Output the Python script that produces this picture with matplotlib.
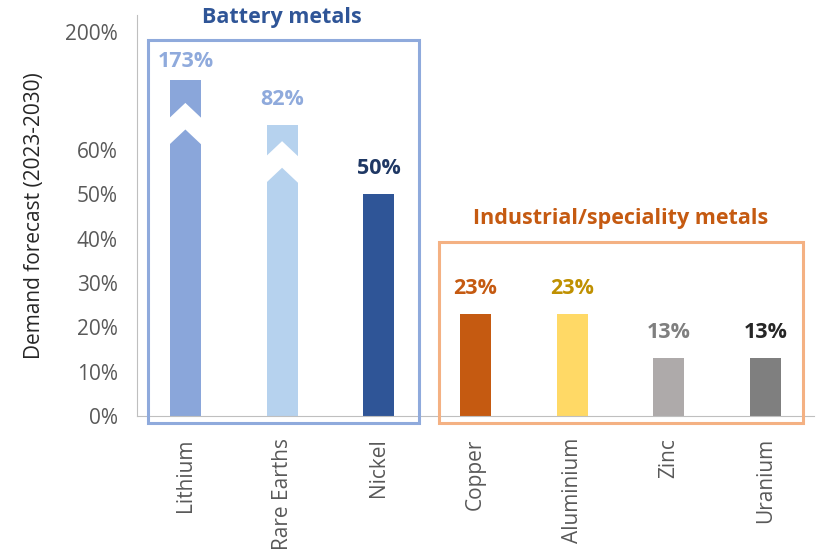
import numpy as np
import matplotlib
matplotlib.use("Agg")
import matplotlib.pyplot as plt
from matplotlib.patches import Rectangle, Polygon
from matplotlib.transforms import blended_transform_factory

plt.rcParams['font.family'] = ['Open Sans', 'DejaVu Sans']

# --- data ---
metals = ['Lithium', 'Rare Earths', 'Nickel', 'Copper', 'Aluminium', 'Zinc', 'Uranium']
demand = [173, 82, 50, 23, 23, 13, 13]
labels = ['173%', '82%', '50%', '23%', '23%', '13%', '13%']
bar_colors = ['#8aa6da', '#b6d2ee', '#2f5597', '#c55a11', '#ffd966', '#aeaaaa', '#7f7f7f']
label_colors = ['#8faadc', '#8faadc', '#1f3864', '#c55a11', '#bf9000', '#7f7f7f', '#262626']
yticks = [0, 10, 20, 30, 40, 50, 60, 200]

# broken y axis: linear to 60%, squeezed above
axis_vals = [0, 60, 82, 173, 200, 210]
axis_pos = [0, 60, 65.6, 75.8, 86.6, 90.45]

def fwd(v):
    return np.interp(v, axis_vals, axis_pos)

def inv(p):
    return np.interp(p, axis_pos, axis_vals)

fig = plt.figure(figsize=(8.17, 5.6), dpi=100)
ax = fig.add_axes([0.1677, 0.2571, 0.8286, 0.7161])
ax.set_yscale('function', functions=(fwd, inv))

x = np.arange(len(metals))
bar_w = 0.32
ax.bar(x, demand, width=bar_w, color=bar_colors, zorder=2)

ax.set_xlim(-0.5, 6.5)
ax.set_ylim(0, 210)
ax.set_yticks(yticks)
ax.set_yticklabels([f'{t}%' for t in yticks])
ax.set_xticks(x)
ax.set_xticklabels(metals, rotation=90)
ax.tick_params(axis='both', length=0, labelsize=15, labelcolor='#595959')
ax.tick_params(axis='y', pad=14)
ax.tick_params(axis='x', pad=16)
ax.set_ylabel('Demand forecast (2023-2030)', fontsize=15, color='#262626', labelpad=14)

for s in ['top', 'right']:
    ax.spines[s].set_visible(False)
ax.spines['left'].set_color('#bfbfbf')
ax.spines['bottom'].set_color('#bfbfbf')

# value labels (the tallest one sits a bit closer so it stays inside the box)
for xi, v, lab, c in zip(x, demand, labels, label_colors):
    off = 13 if v > 100 else 18.5
    ax.annotate(lab, (xi, v), xytext=(0, off), textcoords='offset points',
                ha='center', va='center', fontsize=15.5, fontweight='bold', color=c)

# break chevrons on the bars that go past the axis break
for xi, v in zip(x, demand):
    if v <= 60:
        continue
    h = fwd(v)
    mid = 0.846 * h
    half, rise = 3.0, 3.5
    xl, xr = xi - bar_w / 2 - 0.01, xi + bar_w / 2 + 0.01
    pts = [(xl, mid - half), (xi, mid - half + rise), (xr, mid - half),
           (xr, mid + half), (xi, mid + half + rise), (xl, mid + half)]
    pts = [(px, inv(py)) for px, py in pts]
    ax.add_patch(Polygon(pts, closed=True, facecolor='white', edgecolor='none', zorder=3))

# group boxes and titles
trans = blended_transform_factory(ax.transData, ax.transAxes)
ax.add_patch(Rectangle((-0.39, -0.0175), 2.81, 0.9555, transform=trans, fill=False,
                       edgecolor='#8faadc', linewidth=2.2, clip_on=False, zorder=4))
ax.add_patch(Rectangle((2.62, -0.0175), 3.77, 0.4515, transform=trans, fill=False,
                       edgecolor='#f4b183', linewidth=2.2, clip_on=False, zorder=4))
ax.text(1.0, 0.995, 'Battery metals', transform=trans, ha='center', va='center',
        fontsize=15.5, fontweight='bold', color='#2f5597')
ax.text(4.5, 0.492, 'Industrial/speciality metals', transform=trans, ha='center',
        va='center', fontsize=15.5, fontweight='bold', color='#c55a11')

fig.savefig('out.png', dpi=100)
